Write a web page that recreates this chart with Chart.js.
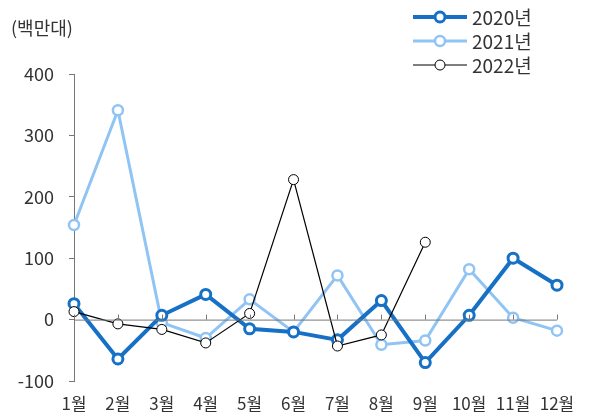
<!DOCTYPE html>
<html>
<head>
<meta charset="utf-8">
<script src="https://cdn.jsdelivr.net/npm/chart.js@4"></script>
<style>
  html, body { margin: 0; padding: 0; background: #fff; }
  #wrap { position: relative; width: 589px; height: 418px; }
</style>
</head>
<body>
<div id="wrap"><canvas id="chart" width="589" height="418"></canvas></div>
<script>
const months = ['1월', '2월', '3월', '4월', '5월', '6월', '7월', '8월', '9월', '10월', '11월', '12월'];
const seriesNames = ['2020년', '2021년', '2022년'];
const data2020 = [26, -64, 7, 41, -15, -20, -33, 31, -70, 7, 100, 56];
const data2021 = [154, 341, -5, -30, 33, -20, 72, -41, -34, 82, 3, -18];
const data2022 = [13, -7, -16, -38, 10, 228, -43, -25, 126];
const yTicks = [-100, 0, 100, 200, 300, 400];
const unitLabel = '(백만대)';

const FONT = '"Noto Sans CJK KR", "Noto Sans", sans-serif';
const TEXT = '#333333';

// zero line + upward tick marks at each month, plus unit label and legend
const extras = {
    id: 'extras',
    afterDatasetsDraw(chart) {
        const ctx = chart.ctx;
        const x = chart.scales.x, y = chart.scales.y;
        const y0 = y.getPixelForValue(0);
        ctx.save();
        ctx.strokeStyle = '#777';
        ctx.lineWidth = 1;
        ctx.beginPath();
        ctx.moveTo(x.left, y0 + 0.5);
        ctx.lineTo(x.right, y0 + 0.5);
        months.forEach((m, i) => {
            const px = Math.round(x.getPixelForValue(i)) + 0.5;
            ctx.moveTo(px, y0);
            ctx.lineTo(px, y0 - 5);
        });
        ctx.stroke();
        ctx.restore();
    },
    afterDraw(chart) {
        const ctx = chart.ctx;
        ctx.save();
        ctx.fillStyle = TEXT;
        ctx.font = '18px ' + FONT;
        ctx.textBaseline = 'middle';
        ctx.textAlign = 'left';
        ctx.fillText(unitLabel, 11, 28);

        chart.data.datasets.forEach((ds, i) => {
            const ly = 17 + i * 24;
            ctx.strokeStyle = ds.borderColor;
            ctx.lineWidth = ds.borderWidth;
            ctx.beginPath();
            ctx.moveTo(413, ly);
            ctx.lineTo(467, ly);
            ctx.stroke();
            ctx.beginPath();
            ctx.arc(440, ly, ds.pointRadius, 0, Math.PI * 2);
            ctx.fillStyle = '#fff';
            ctx.fill();
            ctx.lineWidth = ds.pointBorderWidth;
            ctx.strokeStyle = ds.pointBorderColor;
            ctx.stroke();
            ctx.fillStyle = TEXT;
            ctx.font = '19px ' + FONT;
            ctx.fillText(ds.label, 472, ly + 1);
        });
        ctx.restore();
    }
};

new Chart(document.getElementById('chart'), {
    type: 'line',
    data: {
        labels: months,
        datasets: [
            {
                label: seriesNames[0],
                data: data2020,
                borderColor: '#1570c6',
                borderWidth: 4,
                pointRadius: 5,
                pointBorderWidth: 3,
                pointBorderColor: '#1570c6',
                pointBackgroundColor: '#fff',
                tension: 0,
                order: 1
            },
            {
                label: seriesNames[1],
                data: data2021,
                borderColor: '#90c4f4',
                borderWidth: 3,
                pointRadius: 5,
                pointBorderWidth: 2.5,
                pointBorderColor: '#90c4f4',
                pointBackgroundColor: '#fff',
                tension: 0,
                order: 2
            },
            {
                label: seriesNames[2],
                data: data2022,
                borderColor: '#000',
                borderWidth: 1.2,
                pointRadius: 5,
                pointBorderWidth: 1,
                pointBorderColor: '#000',
                pointBackgroundColor: '#fff',
                tension: 0,
                order: 0
            }
        ]
    },
    options: {
        responsive: false,
        animation: false,
        layout: { padding: { top: 74, right: 32, left: 0, bottom: 0 } },
        plugins: {
            legend: { display: false },
            tooltip: { enabled: false }
        },
        scales: {
            x: {
                offset: false,
                grid: { display: false },
                border: { display: false },
                ticks: {
                    color: TEXT,
                    font: { family: FONT, size: 17 },
                    padding: 4,
                    maxRotation: 0,
                    autoSkip: false
                },
                afterFit(s) { s.height = 37; }
            },
            y: {
                min: -100,
                max: 400,
                afterBuildTicks(s) { s.ticks = yTicks.map(v => ({ value: v })); },
                grid: {
                    drawOnChartArea: false,
                    drawTicks: true,
                    tickLength: 5,
                    color: '#777'
                },
                border: { display: true, color: '#777' },
                ticks: {
                    color: TEXT,
                    font: { family: FONT, size: 18 },
                    padding: 15
                },
                afterFit(s) { s.width = 74; }
            }
        }
    },
    plugins: [extras]
});
</script>
</body>
</html>
